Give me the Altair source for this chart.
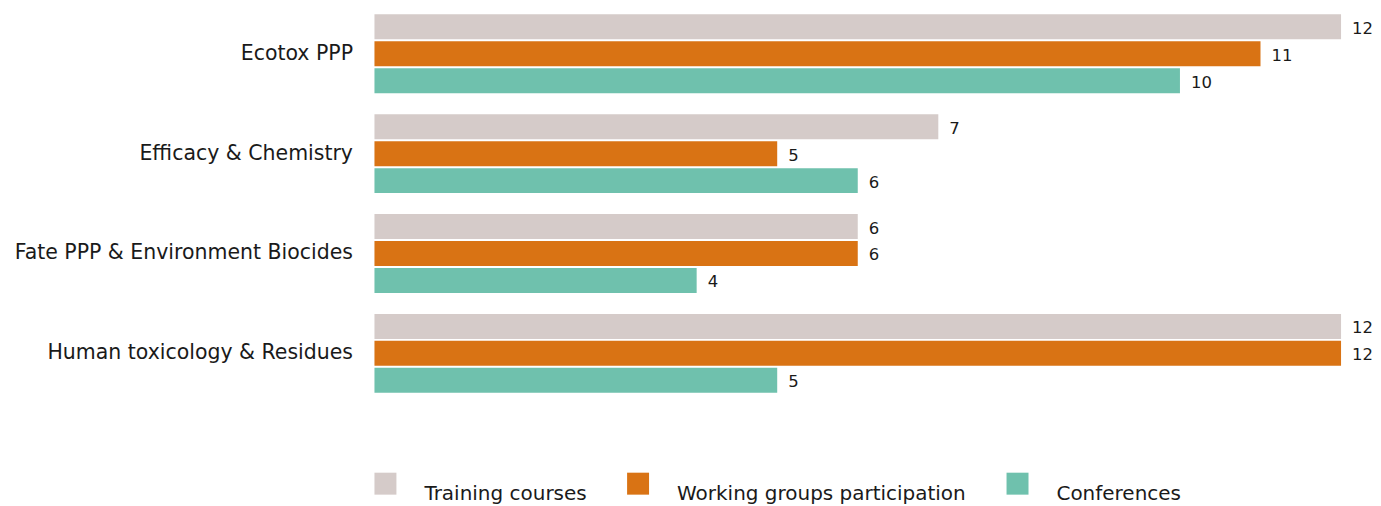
import altair as alt
import pandas as pd

categories = ["Ecotox PPP", "Efficacy & Chemistry", "Fate PPP & Environment Biocides", "Human toxicology & Residues"]
series = ["Training courses", "Working groups participation", "Conferences"]
training = [12, 7, 6, 12]
working = [11, 5, 6, 12]
conferences = [10, 6, 4, 5]
colors = ["#d5cbc9", "#d97314", "#6fc1ad"]

rows = []
for i, c in enumerate(categories):
    for s, vals in zip(series, [training, working, conferences]):
        rows.append({"category": c, "series": s, "value": vals[i]})
df = pd.DataFrame(rows)

FONT = "DejaVu Sans"

y = alt.Y("category:N", sort=categories, title=None,
          scale=alt.Scale(paddingInner=0.21, paddingOuter=0.06),
          axis=alt.Axis(domain=False, ticks=False, labelPadding=22, labelFontSize=20.5,
                        labelColor="#1a1a1a", labelFont=FONT, labelLimit=600))
yoff = alt.YOffset("series:N", sort=series, scale=alt.Scale(paddingInner=0.074, paddingOuter=0))
x = alt.X("value:Q", axis=None, scale=alt.Scale(domain=[0, 12], nice=False))

bars = alt.Chart(df).mark_bar().encode(
    y=y, yOffset=yoff, x=x,
    color=alt.Color("series:N", sort=series, title=None,
                    scale=alt.Scale(domain=series, range=colors),
                    legend=alt.Legend(orient="none", legendX=0, legendY=465, direction="horizontal",
                                      symbolType="square", symbolSize=484, symbolStrokeWidth=0,
                                      labelFontSize=20, labelFont=FONT, labelColor="#1a1a1a",
                                      labelOffset=28, columnPadding=40, labelBaseline="top",
                                      labelLimit=600)),
)
labels = alt.Chart(df).mark_text(align="left", baseline="middle", dx=11, dy=2,
                                 fontSize=16.5, font=FONT, color="#1a1a1a").encode(
    y=y, yOffset=yoff, x=x, text="value:Q")

chart = (bars + labels).properties(width=968, height=391, padding={"left": 6, "top": 0, "right": 0, "bottom": 0}
).configure_view(stroke=None)

chart.save("out.html", embed_options={"renderer": "svg", "actions": False})
